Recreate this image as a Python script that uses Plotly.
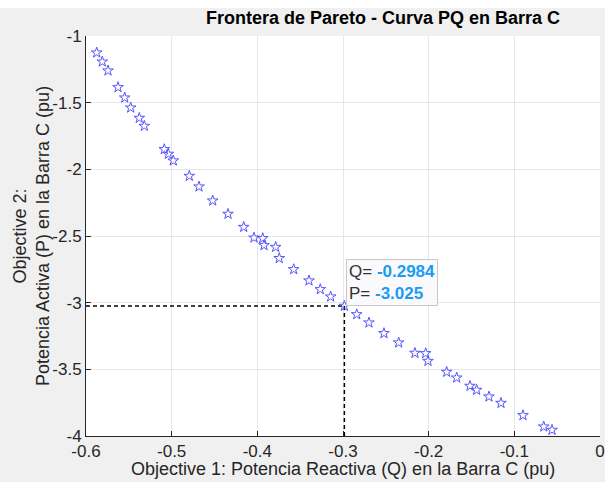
import plotly.graph_objects as go

# Pareto front points (Q, P)
q_vals = [-0.5875, -0.5810, -0.5743, -0.5626, -0.5548, -0.5478, -0.5378, -0.5319,
          -0.5086, -0.5039, -0.4981, -0.4794, -0.4681, -0.4521, -0.4342, -0.4159,
          -0.4039, -0.3937, -0.3922, -0.3786, -0.3744, -0.3576, -0.3397, -0.3265,
          -0.3144, -0.2984, -0.2840, -0.2697, -0.2522, -0.2350, -0.2160, -0.2035,
          -0.2008, -0.1790, -0.1673, -0.1518, -0.1440, -0.1296, -0.1156, -0.0899,
          -0.0657, -0.0560]
p_vals = [-1.125, -1.193, -1.260, -1.385, -1.463, -1.538, -1.615, -1.675,
          -1.850, -1.885, -1.935, -2.050, -2.130, -2.235, -2.335, -2.433,
          -2.513, -2.517, -2.570, -2.583, -2.667, -2.750, -2.835, -2.900,
          -2.955, -3.025, -3.088, -3.150, -3.230, -3.300, -3.378, -3.380,
          -3.438, -3.520, -3.563, -3.625, -3.655, -3.705, -3.753, -3.845,
          -3.930, -3.955]

sel_q = -0.2984
sel_p = -3.025

x_ticks = [-0.6, -0.5, -0.4, -0.3, -0.2, -0.1, 0]
x_labels = ["-0.6", "-0.5", "-0.4", "-0.3", "-0.2", "-0.1", "0"]
y_ticks = [-4, -3.5, -3, -2.5, -2, -1.5, -1]
y_labels = ["-4", "-3.5", "-3", "-2.5", "-2", "-1.5", "-1"]

FONT = "Liberation Sans, Arial, Helvetica, sans-serif"
W, H = 605, 482
L, R, T, B = 86, 5, 36, 46
PW, PH = W - L - R, H - T - B

def px_x(px):
    return (px - L) / PW

def px_y(py):
    return (H - B - py) / PH

fig = go.Figure()

# dashed guide lines to the selected point
fig.add_trace(go.Scatter(x=[-0.6, sel_q], y=[sel_p, sel_p], mode="lines",
                         line=dict(color="black", width=1.5, dash="4px,3px"),
                         hoverinfo="skip", showlegend=False))
fig.add_trace(go.Scatter(x=[sel_q, sel_q], y=[sel_p, -4], mode="lines",
                         line=dict(color="black", width=1.5, dash="4px,3px"),
                         hoverinfo="skip", showlegend=False))

fig.add_trace(go.Scatter(x=q_vals, y=p_vals, mode="markers",
                         marker=dict(symbol="star-open", size=8,
                                     color="rgb(85,85,255)",
                                     line=dict(width=1, color="rgb(85,85,255)")),
                         showlegend=False))

fig.add_annotation(x=sel_q, y=sel_p, xref="x", yref="y",
                   xanchor="left", yanchor="bottom", xshift=2, yshift=0,
                   showarrow=False, align="left",
                   text=("<span style='color:#333333'>Q= </span><b style='color:#1a9cf5'>-0.2984</b><br>"
                         "<span style='color:#333333'>P= </span><b style='color:#1a9cf5'>-3.025</b>"),
                   font=dict(family=FONT, size=17),
                   bgcolor="rgba(250,250,252,0.95)", bordercolor="#c8c8c8",
                   borderwidth=1, borderpad=2)

# axis titles as annotations for exact placement
fig.add_annotation(text="Objective 1: Potencia Reactiva (Q) en la Barra C (pu)",
                   xref="paper", yref="paper", x=px_x(343), y=px_y(469),
                   xanchor="center", yanchor="middle", showarrow=False,
                   font=dict(family=FONT, size=18, color="#262626"))
fig.add_annotation(text="Objective 2:<br>Potencia Activa (P) en la Barra C (pu)",
                   xref="paper", yref="paper", x=px_x(31), y=px_y(236),
                   xanchor="center", yanchor="middle", showarrow=False,
                   textangle=-90,
                   font=dict(family=FONT, size=18, color="#262626"))

fig.update_layout(
    width=W, height=H,
    margin=dict(l=L, r=R, t=T, b=B, autoexpand=False),
    paper_bgcolor="#f0f0f0", plot_bgcolor="white",
    font=dict(family=FONT, size=17, color="#262626"),
    title=dict(text="<b>Frontera de Pareto - Curva PQ en Barra C</b>",
               x=383 / W, xanchor="center", y=1 - 18 / H, yanchor="middle",
               font=dict(size=18, color="black")),
    xaxis=dict(range=[-0.6, 0], tickvals=x_ticks, ticktext=x_labels,
               showgrid=True, gridcolor="#e6e6e6", gridwidth=1, automargin=False,
               zeroline=False, showline=True, linecolor="#262626", linewidth=1,
               ticks="inside", ticklen=5, tickcolor="#262626", ticklabelstandoff=0),
    yaxis=dict(range=[-4, -1], tickvals=y_ticks, ticktext=y_labels,
               showgrid=True, gridcolor="#e6e6e6", gridwidth=1, automargin=False,
               zeroline=False, showline=True, linecolor="#262626", linewidth=1,
               ticks="inside", ticklen=5, tickcolor="#262626", ticklabelstandoff=0),
)

fig.add_shape(type="rect", xref="paper", yref="paper", x0=-0.2, x1=1.05,
              y0=px_y(8), y1=px_y(-2),
              fillcolor="white", line=dict(width=0), layer="below")

fig.write_html("out.html",
               config={"displayModeBar": False},
               post_script="document.body.style.margin='0';document.body.style.overflow='hidden';")
